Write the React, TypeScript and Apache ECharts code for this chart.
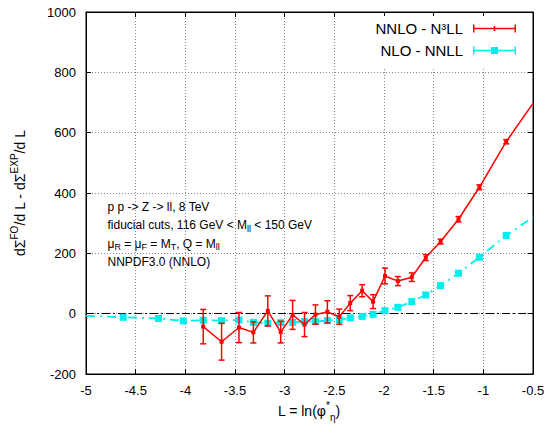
import React, { useEffect, useRef } from 'react';
import * as echarts from 'echarts';

// NNLO - N3LL (red) : L values, central values, symmetric errors
const redL = [-3.82, -3.635, -3.46, -3.315, -3.17, -3.04, -2.92, -2.8, -2.69, -2.57, -2.45, -2.34, -2.22, -2.11, -1.99, -1.86, -1.72, -1.58, -1.43, -1.25, -1.04, -0.77, -0.5];
const redVal = [-43, -93, -46, -62, 9, -61, -4, -36, -3, 6, -10, 35, 76, 40, 125, 108, 121, 186, 239, 313, 419, 570, 697];
const redErr = [57, 61, 50, 35, 50, 36, 48, 40, 32, 37, 25, 25, 20, 23, 26, 15, 14, 10, 8, 9, 8, 7, 0];

// NLO - NNLL (cyan)
const cyanL = [-5, -4.625, -4.27, -4.02, -3.82, -3.635, -3.46, -3.315, -3.17, -3.04, -2.92, -2.8, -2.69, -2.57, -2.45, -2.34, -2.22, -2.11, -1.99, -1.86, -1.72, -1.58, -1.43, -1.25, -1.04, -0.77, -0.5];
const cyanVal = [-7, -12, -16, -24, -22, -23, -21, -29, -32, -30, -29, -26, -26, -23, -20, -14, -9, -2, 10, 21, 40, 62, 93, 134, 187, 259, 320];

const xTicks = { min: -5, max: -0.5, interval: 0.5 };
const yTicks = { min: -200, max: 1000, interval: 200 };

const seriesNames = ['NNLO - N³LL', 'NLO - NNLL'];
const annotations = [
  '{n|p p -> Z -> ll, 8 TeV}',
  '{n|fiducial cuts, 116 GeV < M}{b|ll}{n| < 150 GeV}',
  '{n|μ}{b|R}{n| = μ}{b|F}{n| = M}{b|T}{n|, Q = M}{b|ll}',
  '{n|NNPDF3.0 (NNLO)}',
];

const FONT = '"Liberation Sans", Arial, Helvetica, sans-serif';
const RED = '#ff0000';
const CYAN = '#00eeee';

const redIcon = 'path://M0,0H1.5V3.3H20.7V1.5H22.3V3.3H41.5V0H43V8H41.5V4.7H22.3V6.5H20.7V4.7H1.5V8H0Z';
const cyanIcon = 'path://M0,0H1.5V3.3H18V0.5H25V3.3H41.5V0H43V8H41.5V4.7H25V7.5H18V4.7H1.5V8H0Z';

export default function App() {
  const ref = useRef<HTMLDivElement>(null);
  useEffect(() => {
    if (!ref.current) return;
    const chart = echarts.init(ref.current, undefined, { renderer: 'svg' });
    const redData = redL.map((x, i) => [x, redVal[i]]);
    const cyanData = cyanL.map((x, i) => [x, cyanVal[i]]);
    const redErrData = redL
      .map((x, i) => [x, redVal[i] - redErr[i], redVal[i] + redErr[i], redErr[i]])
      .filter((d) => d[3] > 0);

    const errRender = (color: string) => (params: any, api: any) => {
      const x = api.value(0);
      const p1 = api.coord([x, api.value(1)]);
      const p2 = api.coord([x, api.value(2)]);
      const w = 3;
      const st = { stroke: color, lineWidth: 1.5 };
      return {
        type: 'group',
        children: [
          { type: 'line', shape: { x1: p1[0], y1: p1[1], x2: p2[0], y2: p2[1] }, style: st },
          { type: 'line', shape: { x1: p1[0] - w, y1: p1[1], x2: p1[0] + w, y2: p1[1] }, style: st },
          { type: 'line', shape: { x1: p2[0] - w, y1: p2[1], x2: p2[0] + w, y2: p2[1] }, style: st },
        ],
      };
    };

    const axisCommon = {
      type: 'value',
      axisLine: { show: true, onZero: false, lineStyle: { color: '#000', width: 1 } },
      axisTick: { show: true, inside: true, length: 5, lineStyle: { color: '#000' } },
    };

    chart.setOption({
      animation: false,
      backgroundColor: '#fff',
      grid: { left: 86, right: 16, top: 12, bottom: 51, show: true, borderColor: '#000', borderWidth: 1 },
      xAxis: [
        {
          ...axisCommon,
          position: 'bottom',
          ...xTicks,
          axisLabel: { color: '#000', fontSize: 13, fontFamily: FONT, margin: 10 },
          splitLine: { show: true, lineStyle: { color: '#888', type: [1, 2], width: 1 } },
        },
        {
          ...axisCommon,
          position: 'top',
          ...xTicks,
          axisLabel: { show: false },
          splitLine: { show: false },
        },
      ],
      yAxis: [
        {
          ...axisCommon,
          position: 'left',
          ...yTicks,
          axisLabel: { color: '#000', fontSize: 13, fontFamily: FONT, margin: 10, formatter: (v: number) => String(v) },
          splitLine: { show: true, lineStyle: { color: '#888', type: [1, 2], width: 1 } },
        },
        {
          ...axisCommon,
          position: 'right',
          ...yTicks,
          axisLabel: { show: false },
          splitLine: { show: false },
        },
      ],
      legend: {
        orient: 'vertical',
        align: 'right',
        right: 24,
        top: 16,
        padding: [5, 9, 9, 12],
        backgroundColor: '#fff',
        itemWidth: 43,
        itemHeight: 8,
        itemGap: 7,
        selectedMode: false,
        itemStyle: { borderWidth: 0 },
        textStyle: { fontSize: 15, fontFamily: FONT, color: '#000', padding: [0, 5, 0, 0] },
        data: [
          { name: seriesNames[0], icon: redIcon },
          { name: seriesNames[1], icon: cyanIcon },
        ],
      },
      series: [
        {
          name: seriesNames[1],
          type: 'line',
          data: cyanData,
          symbol: 'rect',
          symbolSize: (v: any, p: any) => (p.dataIndex === 0 || p.dataIndex === cyanData.length - 1 ? 0 : 7),
          itemStyle: { color: CYAN },
          lineStyle: { color: CYAN, width: 1.8, type: [9, 5, 2, 5] },
          z: 3,
        },
        {
          name: seriesNames[0],
          type: 'line',
          data: redData,
          symbol: 'rect',
          symbolSize: (v: any, p: any) => (p.dataIndex === redData.length - 1 ? 0 : 4),
          itemStyle: { color: RED },
          lineStyle: { color: RED, width: 1.5 },
          z: 4,
          markLine: {
            silent: true,
            symbol: ['none', 'none'],
            label: { show: false },
            lineStyle: { color: '#000', type: [8, 3, 2, 3], width: 1 },
            data: [{ yAxis: 0 }],
            z: 2,
          },
        },
        {
          name: 'errRed',
          type: 'custom',
          renderItem: errRender(RED),
          data: redErrData,
          encode: { x: 0, y: [1, 2] },
          z: 4,
        },
      ],
      graphic: [
        {
          type: 'text',
          x: 20,
          y: 193,
          rotation: Math.PI / 2,
          style: {
            text: '{n|dΣ}{s|FO}{n|/d L - dΣ}{s|EXP}{n|/d L}',
            align: 'center',
            verticalAlign: 'middle',
            fill: '#000',
            rich: {
              n: { fontSize: 14, fontFamily: FONT, lineHeight: 22, fill: '#000' },
              s: { fontSize: 10, fontFamily: FONT, lineHeight: 12, verticalAlign: 'top', fill: '#000' },
            },
          },
        },
        {
          type: 'text',
          x: 309,
          y: 411,
          style: {
            text: '{n|L = ln(φ}{s|*}{b|η}{n|)}',
            align: 'center',
            verticalAlign: 'middle',
            fill: '#000',
            rich: {
              n: { fontSize: 14, fontFamily: FONT, lineHeight: 22, fill: '#000' },
              s: { fontSize: 10, fontFamily: FONT, lineHeight: 12, verticalAlign: 'top', fill: '#000' },
              b: { fontSize: 10, fontFamily: FONT, lineHeight: 12, verticalAlign: 'bottom', fill: '#000' },
            },
          },
        },
        ...annotations.map((t, i) => ({
          type: 'text',
          x: 107.5,
          y: 207 + i * 18.3,
          style: {
            text: t,
            align: 'left',
            verticalAlign: 'middle',
            fill: '#000',
            rich: {
              n: { fontSize: 12, fontFamily: FONT, lineHeight: 16, fill: '#000' },
              b: { fontSize: 9, fontFamily: FONT, lineHeight: 10, verticalAlign: 'bottom', fill: '#000' },
            },
          },
        })),
      ],
    });
    return () => chart.dispose();
  }, []);
  return <div ref={ref} style={{ width: 549, height: 425, position: 'absolute', left: 0, top: 0 }} />;
}
